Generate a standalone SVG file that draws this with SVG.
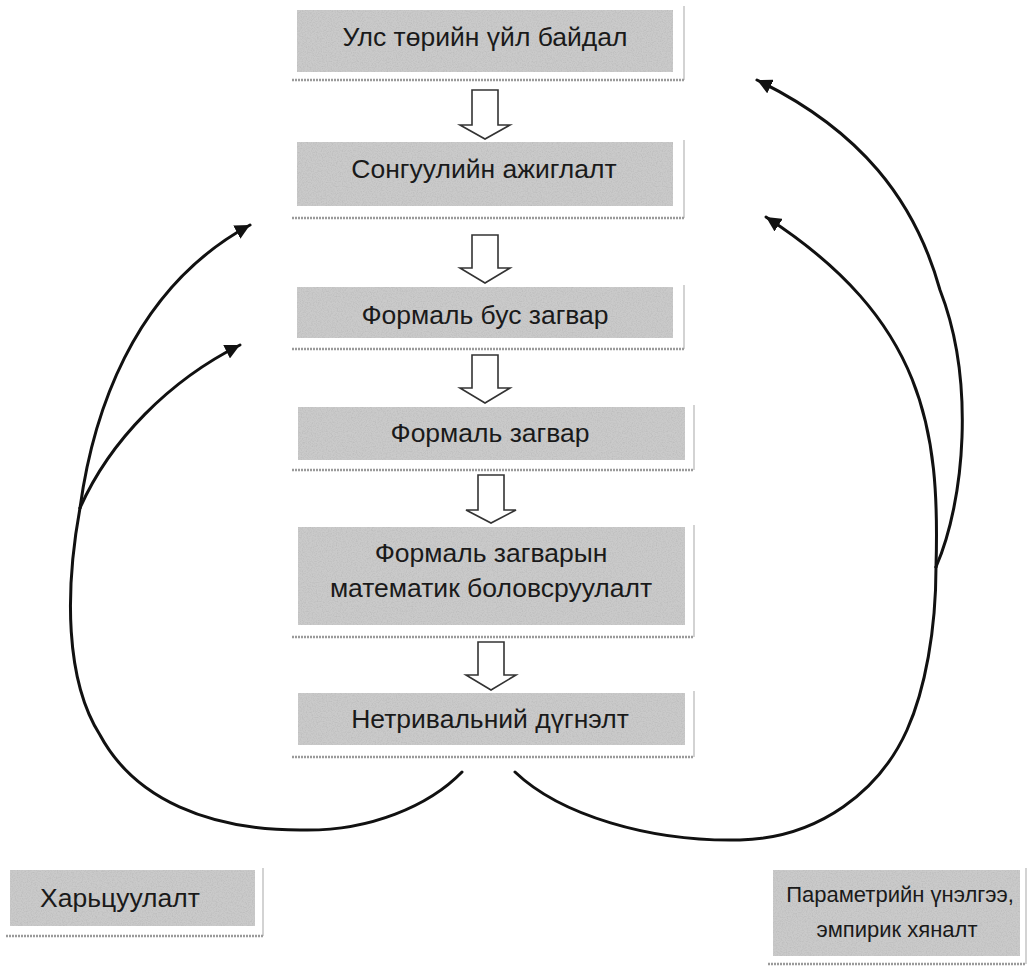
<svg xmlns="http://www.w3.org/2000/svg" width="1030" height="970" viewBox="0 0 1030 970">
<defs>
<filter id="grain" x="0" y="0" width="100%" height="100%">
<feTurbulence type="fractalNoise" baseFrequency="0.8" numOctaves="2" seed="3" result="n"/>
<feColorMatrix type="matrix" values="0 0 0 0 0.5  0 0 0 0 0.5  0 0 0 0 0.5  0 0 0 2 -0.8" in="n" result="g"/>
<feComposite in="g" in2="SourceGraphic" operator="in" result="gm"/>
<feMerge><feMergeNode in="SourceGraphic"/><feMergeNode in="gm"/></feMerge>
</filter>
<marker id="ah" viewBox="0 0 10 10" refX="10" refY="5" markerWidth="5" markerHeight="5" orient="auto" markerUnits="strokeWidth">
<path d="M0,0 L10,5 L0,10 z" fill="#111"/>
</marker>
</defs>
<style>
.box{fill:#cacaca;filter:url(#grain)}
.sh{stroke:#9a9a9a;stroke-width:2.5;stroke-dasharray:2 1;fill:none}
.rs{stroke:#c4c4c4;stroke-width:1.5;fill:none}
.t{font-family:"Liberation Sans",Arial,sans-serif;font-size:26.5px;fill:#1a1a1a;text-anchor:middle}
.s{font-size:22px}
.ba{fill:#fff;stroke:#333;stroke-width:1.6}
.c{fill:none;stroke:#111;stroke-width:3;stroke-linecap:round}
</style>
<rect width="1030" height="970" fill="#fff"/>

<g id="n1">
<rect class="box" x="297" y="10" width="376" height="62"/>
<line class="rs" x1="684" y1="6" x2="684" y2="80"/>
<line class="sh" x1="292" y1="80" x2="684" y2="80"/>
<text class="t" x="485" y="46">Улс төрийн үйл байдал</text>
</g>
<g id="n2">
<rect class="box" x="297" y="142" width="376" height="64"/>
<line class="rs" x1="684" y1="140" x2="684" y2="218"/>
<line class="sh" x1="292" y1="218" x2="684" y2="218"/>
<text class="t" x="484" y="178">Сонгуулийн ажиглалт</text>
</g>
<g id="n3">
<rect class="box" x="297" y="287" width="376" height="51"/>
<line class="rs" x1="684" y1="285" x2="684" y2="349"/>
<line class="sh" x1="292" y1="349" x2="684" y2="349"/>
<text class="t" x="485" y="324">Формаль бус загвар</text>
</g>
<g id="n4">
<rect class="box" x="298" y="407" width="387" height="53"/>
<line class="rs" x1="694" y1="405" x2="694" y2="470"/>
<line class="sh" x1="292" y1="470" x2="694" y2="470"/>
<text class="t" x="490" y="442">Формаль загвар</text>
</g>
<g id="n5">
<rect class="box" x="298" y="527" width="387" height="98"/>
<line class="rs" x1="694" y1="525" x2="694" y2="637"/>
<line class="sh" x1="292" y1="637" x2="694" y2="637"/>
<text class="t" x="491" y="562">Формаль загварын</text>
<text class="t" x="491" y="597">математик боловсруулалт</text>
</g>
<g id="n6">
<rect class="box" x="298" y="693" width="387" height="52"/>
<line class="rs" x1="694" y1="691" x2="694" y2="757"/>
<line class="sh" x1="292" y1="757" x2="694" y2="757"/>
<text class="t" x="490" y="728">Нетривальний дүгнэлт</text>
</g>
<g id="n7">
<rect class="box" x="10" y="870" width="245" height="56"/>
<line class="rs" x1="263" y1="868" x2="263" y2="936"/>
<line class="sh" x1="6" y1="936" x2="263" y2="936"/>
<text class="t" x="120" y="907">Харьцуулалт</text>
</g>
<g id="n8">
<rect class="box" x="773" y="870" width="247" height="86"/>
<line class="rs" x1="1026" y1="868" x2="1026" y2="964"/>
<line class="sh" x1="768" y1="964" x2="1026" y2="964"/>
<text class="t s" x="900" y="902">Параметрийн үнэлгээ,</text>
<text class="t s" x="897" y="937">эмпирик хяналт</text>
</g>

<g id="connectors">
<path class="ba" d="M472,90 H498 V125 H510 L485,139 L460,125 H472 Z"/>
<path class="ba" d="M472,235 H498 V268 H510 L485,283 L460,268 H472 Z"/>
<path class="ba" d="M472,355 H498 V388 H510 L485,403 L460,388 H472 Z"/>
<path class="ba" d="M478,475 H504 V510 H516 L491,523 L466,510 H478 Z"/>
<path class="ba" d="M478,642 H504 V675 H516 L491,690 L466,675 H478 Z"/>

<path class="c" d="M462,772 C430,805 370,832 300,830 C210,830 135,800 100,735 C65,680 65,590 80,508"/>
<path class="c" marker-end="url(#ah)" d="M80,508 C92,420 130,290 250,225"/>
<path class="c" marker-end="url(#ah)" d="M80,508 C110,440 170,380 240,345"/>
<path class="c" d="M515,772 C560,815 650,842 740,840 C820,838 880,790 907,730 C925,690 936,630 936,567"/>
<path class="c" marker-end="url(#ah)" d="M936,567 C965,500 975,380 940,290 C915,200 860,130 757,80"/>
<path class="c" marker-end="url(#ah)" d="M936,567 C940,430 925,320 766,217"/>
</g>
</svg>
